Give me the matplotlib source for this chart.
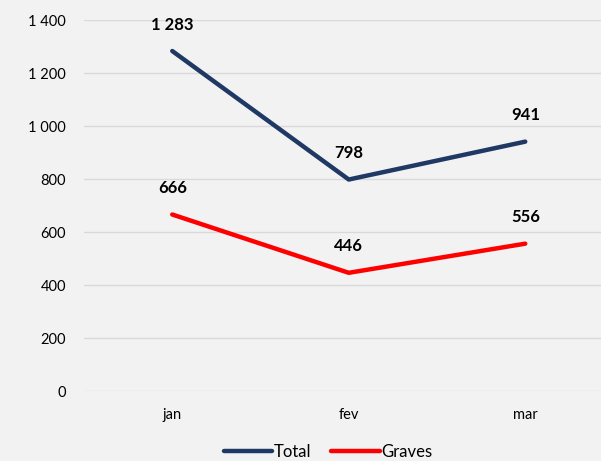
import matplotlib
matplotlib.use("Agg")
import matplotlib.pyplot as plt
from matplotlib.ticker import FuncFormatter

months = ["jan", "fev", "mar"]
total = [1283, 798, 941]
graves = [666, 446, 556]
yticks = [0, 200, 400, 600, 800, 1000, 1200, 1400]

plt.rcParams['font.family'] = ['Lato', 'DejaVu Sans']

fig = plt.figure(figsize=(6.01, 4.61), dpi=100, facecolor='#f2f2f2')
ax = fig.add_axes([84/601, 70/461, 529.5/601, 371/461])
ax.set_facecolor('#f2f2f2')

x = list(range(len(months)))
ax.plot(x, total, color='#203864', lw=3.2, solid_capstyle='round', label='Total', zorder=3)
ax.plot(x, graves, color='#ff0000', lw=3.2, solid_capstyle='round', label='Graves', zorder=3)

def fmt(v):
    return f"{int(v):,}".replace(",", " ")

for xi, v in zip(x, total):
    ax.annotate(fmt(v), (xi, v), xytext=(0, 19), textcoords='offset points',
                ha='center', va='center', fontsize=12, fontweight='bold', color='black')
for xi, v in zip(x, graves):
    ax.annotate(fmt(v), (xi, v), xytext=(0, 19), textcoords='offset points',
                ha='center', va='center', fontsize=12, fontweight='bold', color='black')

ax.set_xlim(-0.5, 2.5)
ax.set_ylim(0, 1400)
ax.set_yticks(yticks)
ax.yaxis.set_major_formatter(FuncFormatter(lambda v, p: fmt(v)))
ax.set_xticks(x)
ax.set_xticklabels(months)
ax.tick_params(axis='y', length=0, pad=13, labelsize=10.5)
ax.tick_params(axis='x', length=0, pad=12, labelsize=10.5)
ax.grid(axis='y', color='#d9d9d9', lw=1)
ax.set_axisbelow(True)
for s in ax.spines.values():
    s.set_visible(False)

fig.legend(loc='lower center', bbox_to_anchor=(0.546, -0.03), ncol=2, frameon=False,
           fontsize=12, handlelength=2.9, handletextpad=0.1, columnspacing=1.2)

fig.savefig('out.png', dpi=100, facecolor='#f2f2f2')
